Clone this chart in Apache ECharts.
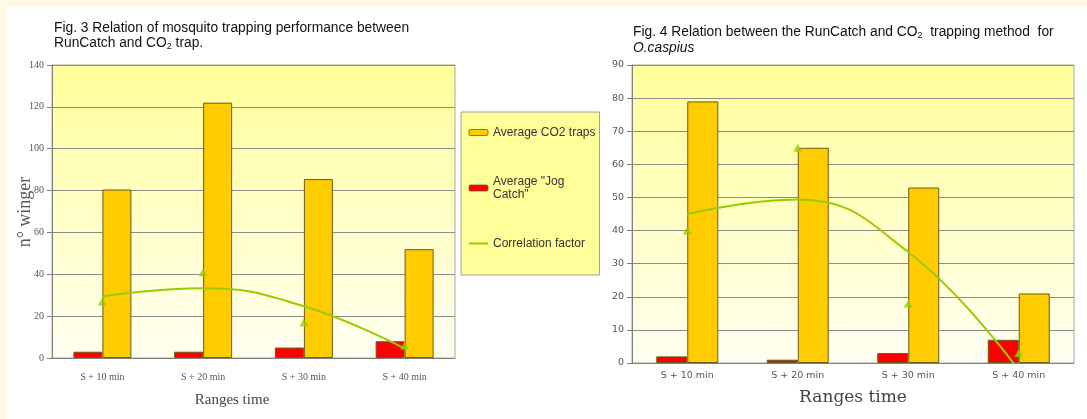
<!DOCTYPE html>
<html>
<head>
<meta charset="utf-8">
<script src="https://cdn.jsdelivr.net/npm/echarts@6.0.0/dist/echarts.min.js"></script>
<style>
  html, body {
    margin: 0;
    padding: 0;
    width: 1087px;
    height: 419px;
    overflow: hidden;
    background:
      linear-gradient(#fdf9e6, #fdf9e6) top left / 100% 7px no-repeat,
      linear-gradient(#fdf9e6, #fdf9e6) top left / 7px 100% no-repeat,
      #fff;
  }
  #chart {
    width: 1087px;
    height: 419px;
  }
</style>
</head>
<body>
<div id="chart"></div>
<script>
// categories shared by both figures
const ranges = ["S + 10 min", "S + 20 min", "S + 30 min", "S + 40 min"];

// Fig. 3
const fig3Co2 = [80.5, 122, 85.5, 52];
const fig3Jog = [3, 3, 5, 8];
const fig3Corr = [27, 41, 17, 6];
const fig3Trend = [29.5, 33.3, 24.7, 4.5];
const fig3Max = 140;
const fig3Step = 20;

// Fig. 4
const fig4Co2 = [79, 65, 53, 21];
const fig4Jog = [2, 1, 3, 7];
const fig4Corr = [40, 65, 18, 3];
const fig4Trend = [45, 49.4, 33.5, -2.2];
const fig4Max = 90;
const fig4Step = 10;

const YELLOW = "#ffcc00";
const RED = "#ff0000";
const GREEN = "#99cc00";
const EDGE = "#6b5a1e";
const GRIDLINE = "#8c8c8c";

const plotBg = {
  type: "linear", x: 0, y: 0, x2: 0, y2: 1,
  colorStops: [
    { offset: 0, color: "#ffff99" },
    { offset: 1, color: "#fffff2" }
  ]
};

const chart = echarts.init(document.getElementById("chart"));

function valueAxis(gridIndex, max, step, labelFont) {
  return {
    type: "value",
    gridIndex,
    min: 0,
    max,
    interval: step,
    axisLine: { show: true, lineStyle: { color: "#808080" } },
    axisTick: { show: true, length: 5, lineStyle: { color: "#808080" } },
    axisLabel: Object.assign({ color: "#555", margin: 8 }, labelFont),
    splitLine: { lineStyle: { color: GRIDLINE, width: 1 } }
  };
}

function catAxis(gridIndex, labelFont, margin) {
  return {
    type: "category",
    gridIndex,
    data: ranges,
    axisLine: { lineStyle: { color: "#808080" } },
    axisTick: { length: 5, lineStyle: { color: "#808080" } },
    axisLabel: Object.assign({ color: "#555", margin }, labelFont)
  };
}

function figSeries(idx, jog, co2, corr, trend, barW) {
  return [
    {
      name: 'Average "Jog Catch"',
      type: "bar",
      xAxisIndex: idx, yAxisIndex: idx,
      data: jog,
      barWidth: barW,
      barGap: "0%",
      itemStyle: { color: RED, borderColor: EDGE, borderWidth: 1 }
    },
    {
      name: "Average CO2 traps",
      type: "bar",
      xAxisIndex: idx, yAxisIndex: idx,
      data: co2,
      barWidth: barW,
      barGap: "0%",
      itemStyle: { color: YELLOW, borderColor: EDGE, borderWidth: 1 }
    },
    {
      name: "Correlation factor",
      type: "line",
      xAxisIndex: idx, yAxisIndex: idx,
      data: trend,
      smooth: 0.45,
      symbol: "none",
      clip: true,
      lineStyle: { color: GREEN, width: 2 },
      itemStyle: { color: GREEN },
      z: 4
    },
    {
      name: "corr points",
      type: "scatter",
      xAxisIndex: idx, yAxisIndex: idx,
      data: corr,
      symbol: "triangle",
      symbolSize: [9, 8],
      itemStyle: { color: GREEN },
      z: 5
    }
  ];
}

const serif = { fontFamily: "Liberation Serif", fontSize: 10 };
const sans = { fontFamily: "DejaVu Sans", fontSize: 9.5 };

chart.setOption({
  animation: false,
  title: [
    {
      left: 49, top: 16,
      text: "Fig. 3 Relation of mosquito trapping performance between\nRunCatch and CO{sub|2} trap.",
      textStyle: {
        fontFamily: "Liberation Sans", fontSize: 13.8, fontWeight: "normal",
        color: "#111", lineHeight: 15,
        rich: { sub: { fontSize: 9, verticalAlign: "bottom", lineHeight: 12 } }
      }
    },
    {
      left: 628, top: 19,
      text: "Fig. 4 Relation between the RunCatch and CO{sub|2}  trapping method  for\n{it|O.caspius}",
      textStyle: {
        fontFamily: "Liberation Sans", fontSize: 13.8, fontWeight: "normal",
        color: "#111", lineHeight: 16,
        rich: {
          sub: { fontSize: 9, verticalAlign: "bottom", lineHeight: 12 },
          it: { fontStyle: "italic", fontSize: 13.8, fontFamily: "Liberation Sans" }
        }
      }
    }
  ],
  legend: {
    left: 461, top: 112,
    orient: "vertical",
    padding: [14, 4, 25, 7],
    itemGap: 30,
    itemWidth: 19,
    itemHeight: 6,
    backgroundColor: "#ffff99",
    borderColor: "#a0a0a0",
    borderWidth: 1,
    selectedMode: false,
    textStyle: { fontFamily: "Liberation Sans", fontSize: 12, color: "#333", lineHeight: 13 },
    formatter: (n) => n === 'Average "Jog Catch"' ? 'Average "Jog\nCatch"' : n,
    data: [
      { name: "Average CO2 traps", itemStyle: { borderWidth: 0.8 } },
      { name: 'Average "Jog Catch"', itemStyle: { borderWidth: 0.8 }, textStyle: { padding: [12, 0, 0, 0] } },
      { name: "Correlation factor", itemStyle: { opacity: 0 } }
    ]
  },
  grid: [
    { left: 52, top: 65, width: 403, height: 293, show: true, backgroundColor: plotBg, borderColor: "#a8a8a8", borderWidth: 1 },
    { left: 632, top: 65, width: 442, height: 298, show: true, backgroundColor: plotBg, borderColor: "#a8a8a8", borderWidth: 1 }
  ],
  xAxis: [
    catAxis(0, serif, 14),
    catAxis(1, sans, 8)
  ],
  yAxis: [
    valueAxis(0, fig3Max, fig3Step, serif),
    valueAxis(1, fig4Max, fig4Step, sans)
  ],
  series: [
    ...figSeries(0, fig3Jog, fig3Co2, fig3Corr, fig3Trend, 29),
    ...figSeries(1, fig4Jog, fig4Co2, fig4Corr, fig4Trend, 31)
  ],
  graphic: [
    {
      type: "text", x: 25, y: 212, rotation: Math.PI / 2,
      style: { text: "n° winger", font: "18px 'Liberation Serif'", fill: "#555", align: "center", verticalAlign: "middle" }
    },
    {
      type: "text", x: 232, y: 400,
      style: { text: "Ranges time", font: "15px 'Liberation Serif'", fill: "#444", align: "center", verticalAlign: "middle" }
    },
    {
      type: "text", x: 853, y: 398,
      style: { text: "Ranges time", font: "17px 'DejaVu Serif'", fill: "#444", align: "center", verticalAlign: "middle" }
    }
  ]
});
</script>
</body>
</html>
